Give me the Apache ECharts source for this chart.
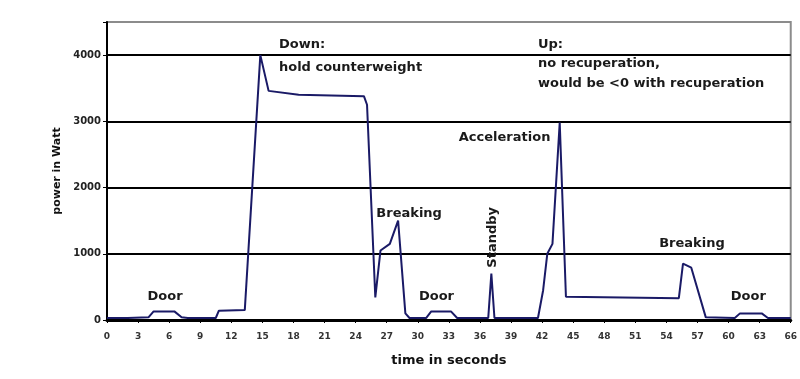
<!DOCTYPE html>
<html>
<head>
<meta charset="utf-8">
<script src="https://cdn.jsdelivr.net/npm/echarts@6/dist/echarts.min.js"></script>
<style>
  html, body { margin: 0; padding: 0; background: #fff; }
  #chart { width: 800px; height: 379px; }
</style>
</head>
<body>
<div id="chart"></div>
<script>
// Elevator trip: time in seconds and electrical power in watts
const timeSec = [0, 2, 4.0, 4.5, 6.5, 7.2, 7.8, 10.5, 10.8, 13.3, 14.8, 15.6, 18.5, 24.8, 25.1, 25.9, 26.4, 27.3, 28.1, 28.8, 29.2, 30.8, 31.3, 33.2, 33.8, 36.8, 37.1, 37.4, 41.6, 42.1, 42.5, 43.0, 43.7, 44.3, 55.2, 55.6, 56.4, 57.8, 60.6, 61.1, 63.2, 63.8, 66];
const powerW  = [30, 30, 40, 130, 130, 40, 30, 30, 140, 150, 4000, 3460, 3400, 3380, 3250, 340, 1050, 1150, 1500, 100, 30, 30, 130, 130, 30, 30, 700, 30, 30, 450, 1000, 1150, 2980, 350, 330, 850, 790, 40, 30, 100, 100, 30, 30];

const yTicks = [0, 1000, 2000, 3000, 4000];

// Annotation texts with their anchor points [time, power]
const notes = [
  { text: 'Door', at: [5.6, 346], align: 'center' },
  { text: 'Down:', at: [16.6, 4165], align: 'left' },
  { text: 'hold counterweight', at: [16.6, 3805], align: 'left' },
  { text: 'Breaking', at: [26.0, 1609], align: 'left' },
  { text: 'Door', at: [31.8, 346], align: 'center' },
  { text: 'Standby', at: [37.2, 1248], align: 'center', rotate: true },
  { text: 'Acceleration', at: [42.8, 2752], align: 'right' },
  { text: 'Up:', at: [41.6, 4165], align: 'left' },
  { text: 'no recuperation,', at: [41.6, 3865], align: 'left' },
  { text: 'would be <0 with recuperation', at: [41.6, 3564], align: 'left' },
  { text: 'Breaking', at: [53.3, 1158], align: 'left' },
  { text: 'Door', at: [61.9, 346], align: 'center' }
];

const chart = echarts.init(document.getElementById('chart'), null, { renderer: 'canvas' });
const FONT = '"DejaVu Sans", Verdana, sans-serif';

chart.setOption({
  animation: false,
  backgroundColor: '#fff',
  grid: {
    left: 107, right: 5, top: 22, bottom: 59,
    show: true, borderColor: '#8c8c8c', borderWidth: 2
  },
  xAxis: {
    type: 'value',
    min: 0, max: 66, interval: 3,
    name: 'time in seconds',
    nameLocation: 'middle',
    nameGap: 34,
    nameTextStyle: { fontFamily: FONT, fontWeight: 'bold', fontSize: 13, color: '#111' },
    axisLine: { lineStyle: { color: '#000', width: 3 } },
    axisTick: { show: true, length: 3, lineStyle: { color: '#000', width: 1 } },
    axisLabel: { fontFamily: FONT, fontWeight: 'bold', fontSize: 9, color: '#333', margin: 12 },
    splitLine: { show: false }
  },
  yAxis: {
    type: 'value',
    min: 0, max: 4500, interval: 1000,
    name: 'power in Watt',
    nameLocation: 'middle',
    nameGap: 42,
    nameRotate: 90,
    nameTextStyle: { fontFamily: FONT, fontWeight: 'bold', fontSize: 11, color: '#111' },
    axisLine: { show: true, lineStyle: { color: '#000', width: 2 } },
    axisTick: { show: true, length: 4, lineStyle: { color: '#000', width: 1 } },
    axisLabel: {
      fontFamily: FONT, fontWeight: 'bold', fontSize: 10, color: '#222', margin: 6,
      formatter: v => (yTicks.indexOf(v) >= 0 ? String(v) : '')
    },
    splitLine: { show: true, lineStyle: { color: ['#000', '#000', '#000', '#000', '#000', '#8c8c8c'], width: 2 } }
  },
  series: [{
    type: 'line',
    data: timeSec.map((t, i) => [t, powerW[i]]),
    showSymbol: false,
    lineStyle: { color: '#1a1a66', width: 2 },
    z: 5
  }]
});

// Place annotation texts at their data anchors
const graphics = notes.map(n => {
  const p = chart.convertToPixel({ gridIndex: 0 }, n.at);
  return {
    type: 'text',
    x: p[0], y: p[1],
    rotation: n.rotate ? Math.PI / 2 : 0,
    style: {
      text: n.text,
      fill: '#1a1a1a',
      font: 'bold 13px ' + FONT,
      align: n.align,
      verticalAlign: 'middle'
    },
    z: 10
  };
});
chart.setOption({ graphic: graphics });
</script>
</body>
</html>
